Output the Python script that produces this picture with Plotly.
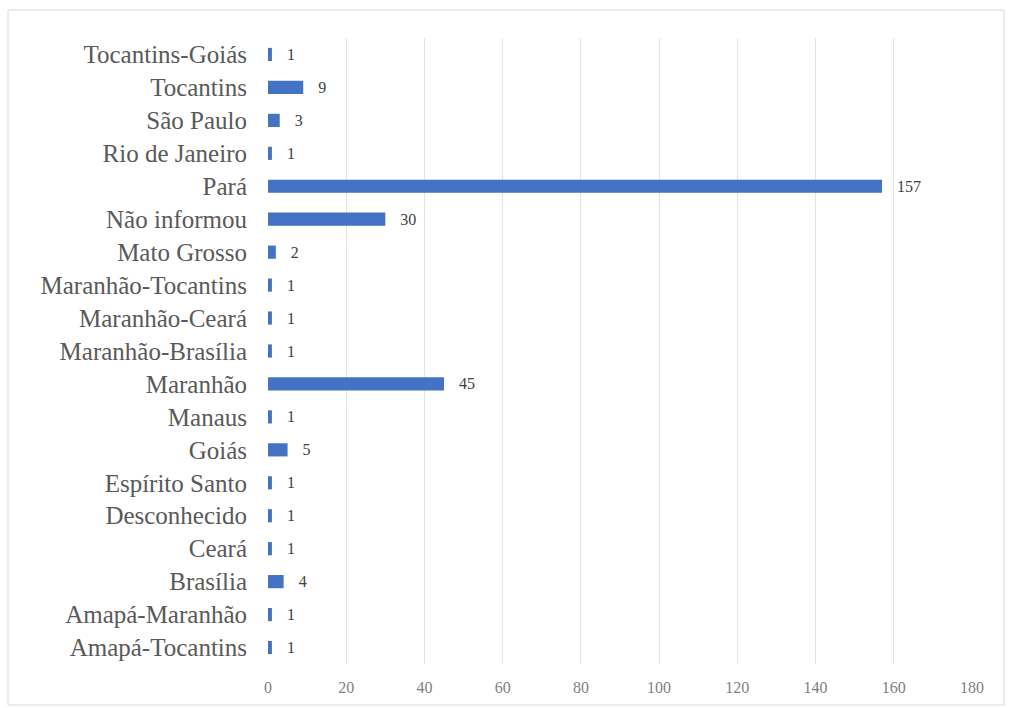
import plotly.graph_objects as go

categories = ["Amapá-Tocantins", "Amapá-Maranhão", "Brasília", "Ceará", "Desconhecido",
              "Espírito Santo", "Goiás", "Manaus", "Maranhão", "Maranhão-Brasília",
              "Maranhão-Ceará", "Maranhão-Tocantins", "Mato Grosso", "Não informou",
              "Pará", "Rio de Janeiro", "São Paulo", "Tocantins", "Tocantins-Goiás"]
values = [1, 1, 4, 1, 1, 1, 5, 1, 45, 1, 1, 1, 2, 30, 157, 1, 3, 9, 1]
x_ticks = [0, 20, 40, 60, 80, 100, 120, 140, 160, 180]

W, H = 1010, 708
ml, mr, mt, mb = 268, 38, 38, 44
SERIF = "Liberation Serif, Times New Roman, DejaVu Serif, serif"

fig = go.Figure(go.Bar(
    y=categories, x=values, orientation="h",
    marker=dict(color="#4472C4", line=dict(width=0)),
    text=values, texttemplate="   %{x}", textposition="outside",
    constraintext="none",
    textfont=dict(family=SERIF, size=16, color="#404040"),
    cliponaxis=False,
))

pw = W - ml - mr
ph = H - mt - mb
x0 = (8 - ml) / pw
x1 = (1004 - ml) / pw
y1 = (H - mb - 10) / ph
y0 = (H - mb - 705) / ph

fig.update_layout(
    width=W, height=H,
    margin=dict(l=ml, r=mr, t=mt, b=mb),
    paper_bgcolor="white", plot_bgcolor="white",
    bargap=0.6,
    showlegend=False,
    font=dict(family=SERIF, color="#595959"),
    xaxis=dict(range=[0, 180], tickvals=x_ticks, showgrid=True, gridcolor="#E3E3E3",
               gridwidth=1, zeroline=False, showline=False, ticks="",
               ticklabelstandoff=12,
               tickfont=dict(family=SERIF, size=16, color="#7F7F7F")),
    yaxis=dict(categoryorder="array", categoryarray=categories, showgrid=False,
               showline=False, ticks="", ticklabelstandoff=20,
               tickfont=dict(family=SERIF, size=25, color="#595959")),
    shapes=[dict(type="rect", xref="paper", yref="paper", x0=x0, x1=x1, y0=y0, y1=y1,
                 line=dict(color="#D9D9D9", width=1), layer="below")],
)

fig.write_html("out.html")
